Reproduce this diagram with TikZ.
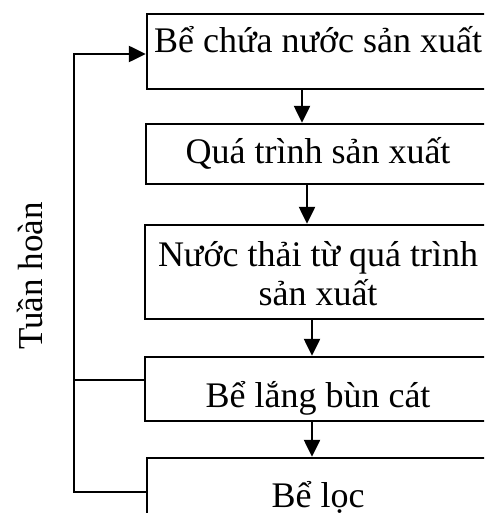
\documentclass[tikz,border=0pt]{standalone}
\usepackage{fontspec}
\setmainfont{Liberation Serif}
\usetikzlibrary{arrows.meta}
\begin{document}
\begin{tikzpicture}[x=1pt,y=-1pt,
  box/.style={draw, line width=2.4pt, rectangle, inner sep=0pt},
  lbl/.style={font=\fontsize{36}{40}\selectfont, anchor=base, inner sep=0pt},
  flow/.style={line width=2.4pt, -{Triangle[length=17pt,width=16pt]}},
  link/.style={line width=2.4pt}]
\path[use as bounding box, clip] (0,0) rectangle (484,513);
% boxes
\node[box, minimum width=343pt, minimum height=75pt] (b1) at (318.5,51.5) {};
\node[box, minimum width=344pt, minimum height=60pt] (b2) at (318,154) {};
\node[box, minimum width=345pt, minimum height=94pt] (b3) at (317.5,272) {};
\node[box, minimum width=345pt, minimum height=64pt] (b4) at (317.5,389) {};
\node[box, minimum width=343pt, minimum height=68pt] (b5) at (318.5,492) {};
% texts
\node[lbl] (t1) at (318,53) {Bể chứa nước sản xuất};
\node[lbl] (t2) at (318,164) {Quá trình sản xuất};
\node[lbl] (t3a) at (318,266) {Nước thải từ quá trình};
\node[lbl] (t3b) at (318,305) {sản xuất};
\node[lbl] (t4) at (318,407) {Bể lắng bùn cát};
\node[lbl] (t5) at (318,507) {Bể lọc};
\node[lbl, font=\fontsize{35}{40}\selectfont, rotate=90] (th) at (42,276) {Tuần hoàn};
% helper coordinates
\coordinate (a1) at (302,0);
\coordinate (a2) at (307,0);
\coordinate (a3) at (312,0);
\coordinate (loop) at (74,0);
\coordinate (r1) at (0,54);
\coordinate (r4) at (0,380);
% flow arrows
\draw[flow] (a1 |- b1.south) -- (a1 |- b2.north);
\draw[flow] (a2 |- b2.south) -- (a2 |- b3.north);
\draw[flow] (a3 |- b3.south) -- (a3 |- b4.north);
\draw[flow] (a3 |- b4.south) -- (a3 |- b5.north);
% recirculation
\draw[flow] (b5.west) -- (b5.west -| loop) -- (loop |- r1) -- (b1.west |- r1);
\draw[link] (b4.west |- r4) -- (loop |- r4);
\end{tikzpicture}
\end{document}
